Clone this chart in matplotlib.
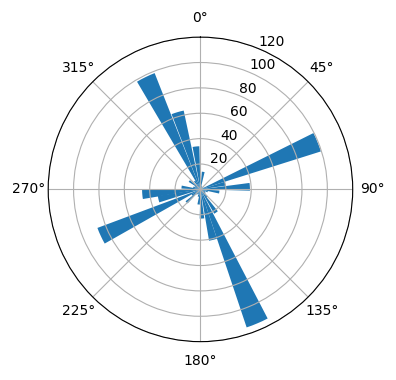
import numpy as np
import matplotlib
matplotlib.use("Agg")
import matplotlib.pyplot as plt

# bar centres (degrees, clockwise from north) and counts
angles_deg = [9, 20, 30, 40, 50, 68, 77, 87, 98, 108, 118, 128, 138, 146,
              157, 166, 177, 187, 197, 207, 217, 227, 236, 245, 257, 265,
              277, 287, 297, 307, 317, 325, 334, 343.5, 354]
counts = [14, 3, 2, 2, 3, 99.5, 20, 39, 15, 6, 4, 5, 8, 22,
          114.7, 41, 23, 12, 6, 4, 5, 15, 8, 86.7, 34, 46,
          15, 6, 5, 11, 4, 8, 98.5, 63.5, 34]
bar_width_deg = 9
r_ticks = [20, 40, 60, 80, 100, 120]

fig = plt.figure(figsize=(3.96, 3.8), dpi=100)
ax = fig.add_axes([0.1217, 0.1008, 0.769, 0.8016], projection='polar')
ax.set_theta_zero_location('N')
ax.set_theta_direction(-1)

ax.bar(np.deg2rad(angles_deg), counts, width=np.deg2rad(bar_width_deg),
       color='tab:blue', edgecolor='none')

ax.set_ylim(0, 120)
ax.set_yticks(r_ticks)
ax.grid(True, color='#b0b0b0', linewidth=0.8)

fig.savefig('out.png', dpi=100)
